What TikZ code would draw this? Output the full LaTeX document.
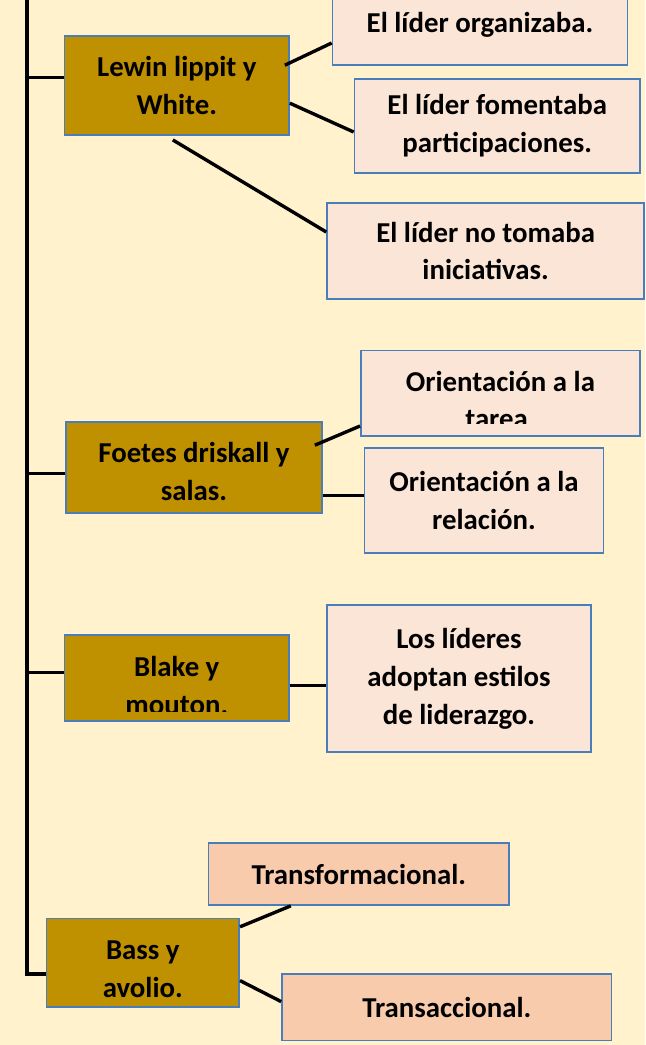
\documentclass[tikz,border=0pt]{standalone}
\usepackage{fontspec}
\setmainfont{Carlito}
\usepackage{tikz}
\usepackage{xcolor}
\usetikzlibrary{positioning}
\definecolor{Doc_Cream}{HTML}{FFF2CC}
\definecolor{Doc_Gold}{HTML}{BF9000}
\definecolor{Doc_Blush}{HTML}{FBE5D6}
\definecolor{Doc_Peach}{HTML}{F8CBAD}
\definecolor{Doc_Edge}{HTML}{4A7EBB}

\begin{document}
\begin{tikzpicture}[
    authorbox/.style={draw=Doc_Edge, line width=1.2pt, fill=Doc_Gold, inner sep=0pt,
        align=center, font=\fontsize{20.5}{27}\selectfont\bfseries},
    ideabox/.style={authorbox, fill=Doc_Blush},
    typebox/.style={authorbox, fill=Doc_Peach},
    boxtext/.style={inner sep=0pt, align=center, font=\fontsize{20.5}{27}\selectfont\bfseries},
    link/.style={line width=2.4pt}
]

    % page is 16.125 x 26.125, top edge at y = 0
    \useasboundingbox (0,0) rectangle (16.125,-26.125);
    \clip (0,0) rectangle (16.125,-26.125);
    \fill[Doc_Cream] (0,0) rectangle (16.125,-26.125);

    % === Authors (left column) ===
    \node[authorbox, minimum width=5.61cm, minimum height=2.475cm] (lewin) at (4.42,-2.14) {Lewin lippit y\\White.};
    \node[authorbox, minimum width=6.4cm, minimum height=2.275cm] (foetes) at (4.85,-11.69) {};
    \node[boxtext] at ([yshift=-0.1cm]foetes.center) {Foetes driskall y\\salas.};
    \node[authorbox, minimum width=5.61cm, minimum height=2.16cm] (blake) at (4.42,-16.95) {};
    \node[authorbox, minimum width=4.82cm, minimum height=2.21cm] (bass) at (3.57,-24.07) {};
    \node[boxtext] at ([yshift=-0.15cm]bass.center) {Bass y\\avolio.};

    % === Styles (right column) ===
    \node[ideabox, minimum width=7.375cm, minimum height=2cm] (organiza) at (12.0,-0.625) {El líder organizaba.};
    \node[ideabox, minimum width=7.135cm, minimum height=2.35cm] (fomenta) at (12.43,-3.15) {El líder fomentaba\\participaciones.};
    \node[ideabox, minimum width=7.925cm, minimum height=2.4cm] (notoma) at (12.14,-6.275) {El líder no tomaba\\iniciativas.};
    \node[ideabox, minimum width=6.975cm, minimum height=2.13cm] (tarea) at (12.51,-9.83) {};
    \node[ideabox, minimum width=5.975cm, minimum height=2.625cm] (relacion) at (12.1,-12.51) {Orientación a la\\relación.};
    \node[ideabox, minimum width=6.6cm, minimum height=3.675cm] (lideres) at (11.475,-16.96) {Los líderes\\adoptan estilos\\de liderazgo.};
    \node[typebox, minimum width=7.51cm, minimum height=1.55cm] (transform) at (8.97,-21.85) {Transformacional.};
    \node[typebox, minimum width=8.24cm, minimum height=1.67cm] (transacc) at (11.17,-25.18) {Transaccional.};

    % texts cut off at the bottom of their boxes
    \begin{scope}
        \clip (tarea.north west) rectangle ([yshift=0.33cm]tarea.south east);
        \node[boxtext] at ([yshift=-0.17cm]tarea.center) {Orientación a la\\tarea.};
    \end{scope}
    \begin{scope}
        \clip (blake.north west) rectangle ([yshift=0.26cm]blake.south east);
        \node[boxtext] at ([yshift=-0.18cm]blake.center) {Blake y\\mouton.};
    \end{scope}

    % === Trunk and branches ===
    \coordinate (trunk) at (0.675,0.3);
    \draw[link] (trunk) |- ([yshift=-0.28cm]bass.west);
    \draw[link] ([yshift=0.21cm]lewin.west) -| (trunk);
    \draw[link] ([yshift=-0.14cm]foetes.west) -| (trunk);
    \draw[link] ([yshift=0.13cm]blake.west) -| (trunk);

    % === Links to styles ===
    \draw[link] ([xshift=-0.125cm, yshift=0.51cm]lewin.east) -- ([yshift=-0.45cm]organiza.west);
    \draw[link] ([yshift=-0.44cm]lewin.east) -- ([yshift=-0.15cm]fomenta.west);
    \draw[link] ([xshift=-0.1cm, yshift=-0.1cm]lewin.south) -- ([yshift=0.475cm]notoma.west);
    \draw[link] ([xshift=-0.2cm, yshift=0.56cm]foetes.east) -- ([yshift=-0.82cm]tarea.west);
    \coordinate (fr) at ([yshift=-0.69cm]foetes.east);
    \draw[link] (fr) -- (fr -| relacion.west);
    \coordinate (bl) at ([yshift=-0.18cm]blake.east);
    \draw[link] (bl) -- (bl -| lideres.west);
    \draw[link] ([yshift=0.9cm]bass.east) -- ([xshift=-1.7cm]transform.south);
    \draw[link] ([yshift=-0.445cm]bass.east) -- ([yshift=0.14cm]transacc.west);

\end{tikzpicture}
\end{document}
